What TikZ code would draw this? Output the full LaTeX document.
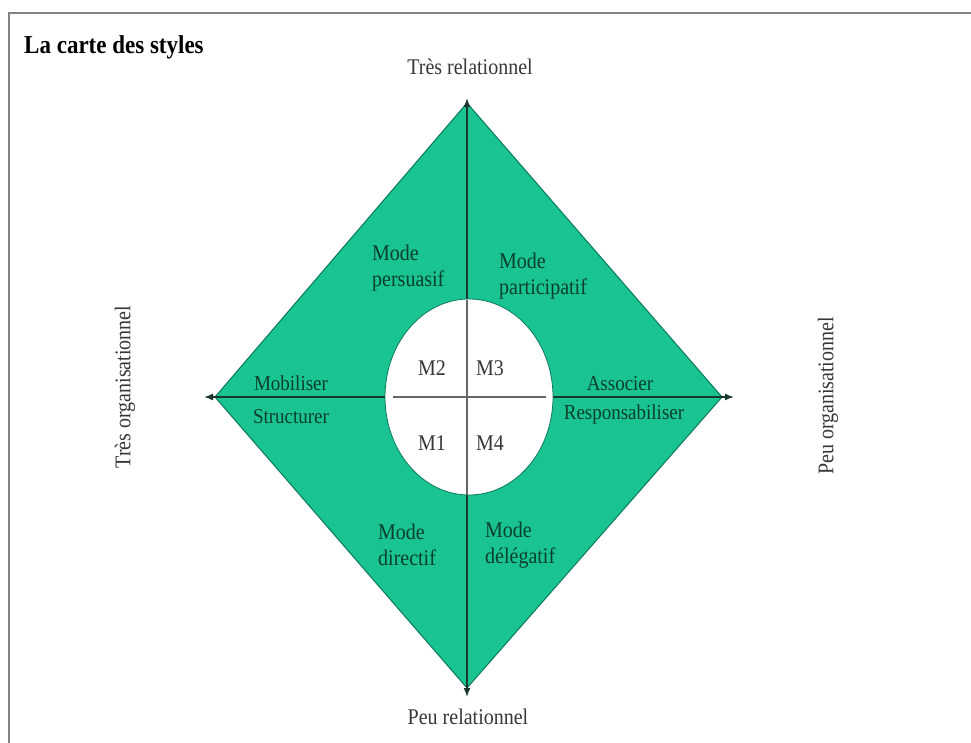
\documentclass[tikz,border=0pt]{standalone}
\usepackage{fontspec}
\usepackage{graphicx}
\setmainfont{Liberation Serif}
\usetikzlibrary{arrows.meta,shapes.geometric}
\definecolor{dgreen}{RGB}{25,196,146}
\definecolor{egreen}{RGB}{10,120,90}
\definecolor{tgreen}{RGB}{12,62,44}
\definecolor{axisc}{RGB}{25,55,45}
\definecolor{outtext}{RGB}{55,55,55}
\definecolor{framec}{RGB}{130,130,130}
\newcommand{\tallt}[1]{\scalebox{1}[1.12]{#1}}
\begin{document}
\begin{tikzpicture}[x=1pt,y=-1pt,
  axis/.style={draw=axisc,line width=1.6pt,{Latex[length=9pt,width=7pt]}-{Latex[length=9pt,width=7pt]}},
  innerlbl/.style={text=tgreen,font=\fontsize{19}{22}\selectfont,inner sep=0pt},
  modelbl/.style={text=tgreen,font=\fontsize{20}{26}\selectfont,align=left,inner sep=0pt},
  mlbl/.style={text=outtext,font=\fontsize{20}{24}\selectfont,inner sep=0pt},
  outlbl/.style={text=outtext,font=\fontsize{20}{24}\selectfont,inner sep=0pt}]
\useasboundingbox (0,0) rectangle (971,743);
\fill[white] (0,0) rectangle (971,743);
\draw[framec,line width=2.2pt] (9,743) -- (9,13) -- (971,13);
% diamond
\coordinate (T) at (467,103);
\coordinate (B) at (467,688);
\coordinate (L) at (215,397);
\coordinate (R) at (722,397);
\coordinate (Ta) at (467,98);
\coordinate (Ba) at (467,697);
\coordinate (La) at (204,397);
\coordinate (Ra) at (734,397);
\filldraw[fill=dgreen,draw=egreen,line width=1pt] (T) -- (R) -- (B) -- (L) -- cycle;
\draw[axis] (La) -- (Ra);
\draw[axis] (Ba) -- (Ta);
% ellipse
\node[ellipse,minimum width=168pt,minimum height=196pt,fill=white,draw=egreen,line width=0.8pt,inner sep=0pt] (E) at (469,397) {};
\coordinate (EL) at (393,397);
\coordinate (ER) at (546,397);
\coordinate (ET) at (467,300);
\coordinate (EB) at (467,495);
\draw[black!60,line width=1.3pt] (EL) -- (ER);
\draw[black!60,line width=1.3pt] (ET) -- (EB);
% labels
\node[anchor=west,font=\bfseries\fontsize{23}{26}\selectfont,inner sep=0pt] (title) at (24,47) {\tallt{La carte des styles}};
\node[outlbl] (tr) at (470,67) {\tallt{Très relationnel}};
\node[outlbl] (pr) at (468,717) {\tallt{Peu relationnel}};
\node[outlbl,rotate=90] (to) at (125,387) {\tallt{Très organisationnel}};
\node[outlbl,rotate=90] (po) at (828,396) {\tallt{Peu organisationnel}};
\node[modelbl,anchor=west] (mp) at (372,268) {\tallt{Mode}\\\tallt{persuasif}};
\node[modelbl,anchor=west] (mpa) at (499,276) {\tallt{Mode}\\\tallt{participatif}};
\node[modelbl,anchor=west] (md) at (378,545) {\tallt{Mode}\\\tallt{directif}};
\node[modelbl,anchor=west] (mde) at (485,545) {\tallt{Mode}\\\tallt{délégatif}};
\node[innerlbl] (mob) at (291,383) {\tallt{Mobiliser}};
\node[innerlbl] (str) at (291,417) {\tallt{Structurer}};
\node[innerlbl] (ass) at (620,384) {\tallt{Associer}};
\node[innerlbl] (resp) at (624,414) {\tallt{Responsabiliser}};
\node[mlbl] (m2) at (432,368) {\tallt{M2}};
\node[mlbl] (m3) at (490,368) {\tallt{M3}};
\node[mlbl] (m1) at (432,443) {\tallt{M1}};
\node[mlbl] (m4) at (490,443) {\tallt{M4}};
\end{tikzpicture}
\end{document}
